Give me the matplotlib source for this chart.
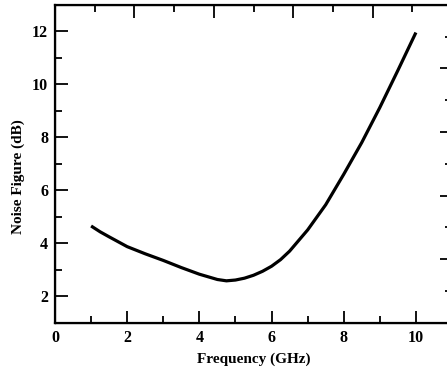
import matplotlib
matplotlib.use("Agg")
import matplotlib.pyplot as plt
from matplotlib.ticker import MultipleLocator

plt.rcParams['font.family'] = ['Liberation Serif', 'DejaVu Serif']
plt.rcParams['font.weight'] = 'bold'

# Noise figure vs frequency
freq_ghz = [1.0, 1.25, 1.5, 2.0, 2.5, 3.0, 3.5, 4.0, 4.5, 4.75, 5.0, 5.25, 5.5, 5.75,
            6.0, 6.25, 6.5, 7.0, 7.5, 8.0, 8.5, 9.0, 9.5, 10.0]
noise_fig_db = [4.65, 4.43, 4.24, 3.87, 3.6, 3.35, 3.08, 2.83, 2.63, 2.58, 2.61, 2.68, 2.79, 2.94,
                3.13, 3.38, 3.7, 4.5, 5.45, 6.6, 7.8, 9.12, 10.52, 11.95]

x_ticks = [0, 2, 4, 6, 8, 10]
y_ticks = [2, 4, 6, 8, 10, 12]

fig = plt.figure(figsize=(4.47, 3.80), dpi=100)
# the right edge of the original plot is cut off, so the axes run past the figure
ax = fig.add_axes([55 / 447, 57.3 / 380, 397 / 447, 318 / 380])

ax.plot(freq_ghz, noise_fig_db, color='black', linewidth=2.3,
        solid_joinstyle='round', solid_capstyle='butt')
ax.set_xlim(0, 11)
ax.set_ylim(1, 13)
ax.set_xticks(x_ticks)
ax.set_yticks(y_ticks)
ax.xaxis.set_minor_locator(MultipleLocator(1))
ax.yaxis.set_minor_locator(MultipleLocator(1))
ax.tick_params(which='both', direction='in', width=1.3, labelsize=11.5, pad=5)
ax.tick_params(which='major', length=9)
ax.tick_params(which='minor', length=5)
for lab in ax.get_xticklabels() + ax.get_yticklabels():
    lab.set_fontweight('bold')
for s in ax.spines.values():
    s.set_linewidth(1.6)

ax.set_xlabel("Frequency (GHz)", fontsize=11, fontweight='bold', labelpad=5)
ax.set_ylabel("Noise Figure (dB)", fontsize=11, fontweight='bold')
ax.yaxis.set_label_coords(-0.075, 0.46)

# second (cropped) axes of the original figure: only their ticks remain
top = ax.twiny()
top.set_xlim(0, 5)
top.xaxis.set_major_locator(MultipleLocator(1))
top.xaxis.set_minor_locator(MultipleLocator(0.5))
top.tick_params(which='both', direction='in', width=1.3, labeltop=False)
top.tick_params(which='major', length=9)
top.tick_params(which='minor', length=5)

right = ax.twinx()
right.set_ylim(0, 5)
right.yaxis.set_major_locator(MultipleLocator(1))
right.yaxis.set_minor_locator(MultipleLocator(0.5))
right.tick_params(which='both', direction='in', width=1.3, labelright=False)
right.tick_params(which='major', length=9)
right.tick_params(which='minor', length=5)

fig.savefig("out.png", dpi=100)
